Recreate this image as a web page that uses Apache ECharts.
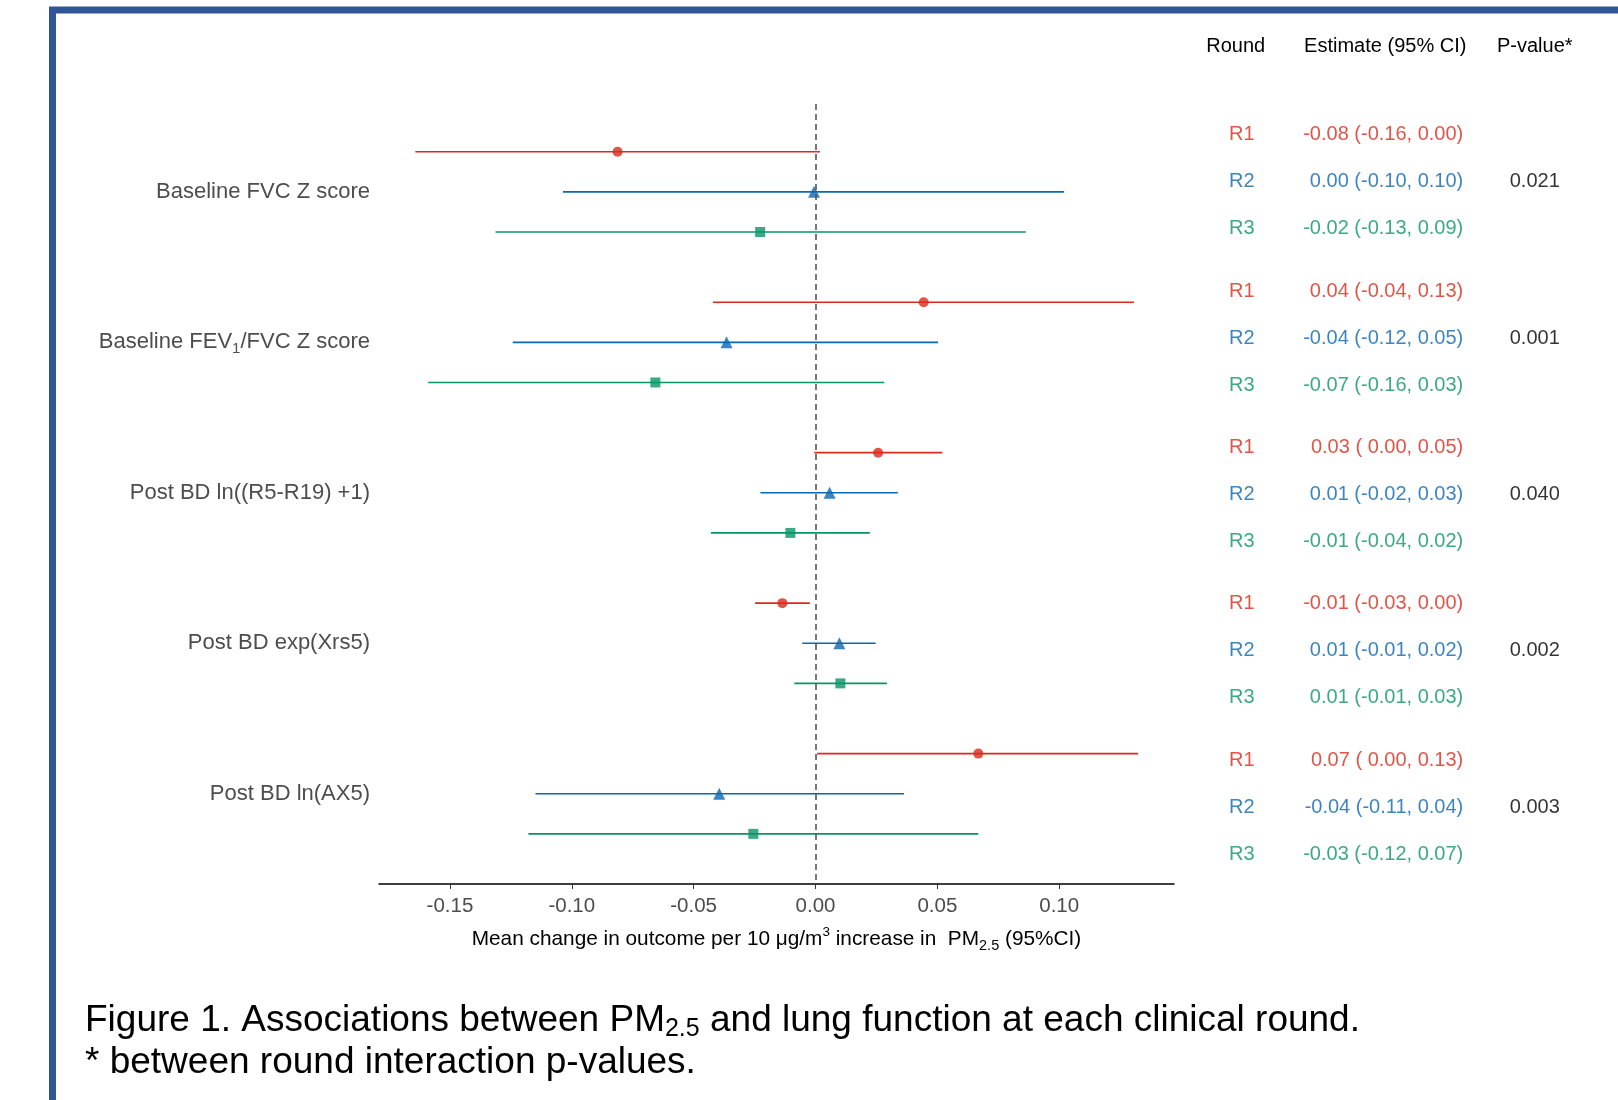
<!DOCTYPE html>
<html>
<head>
<meta charset="utf-8">
<script src="https://cdn.jsdelivr.net/npm/echarts@6/dist/echarts.min.js"></script>
<style>html,body{margin:0;padding:0;background:#fff}#c{width:1618px;height:1100px}</style>
</head>
<body>
<div id="c"></div>
<script>
// ---------- data ----------
const groupLabels = ['Baseline FVC Z score', 'Baseline FEV1/FVC Z score', 'Post BD ln((R5-R19) +1)', 'Post BD exp(Xrs5)', 'Post BD ln(AX5)'];
const rounds = ['R1', 'R2', 'R3'];
const r1Est = [-0.0812, 0.0444, 0.0257, -0.0136, 0.0668];
const r1Lo  = [-0.1642, -0.0421, -0.0005, -0.0248, 0.0007];
const r1Hi  = [0.0018, 0.1307, 0.0520, -0.0023, 0.1324];
const r2Est = [-0.0006, -0.0365, 0.0058, 0.0098, -0.0395];
const r2Lo  = [-0.1036, -0.1242, -0.0226, -0.0054, -0.1149];
const r2Hi  = [0.1020, 0.0503, 0.0338, 0.0247, 0.0363];
const r3Est = [-0.0227, -0.0657, -0.0103, 0.0102, -0.0255];
const r3Lo  = [-0.1313, -0.1589, -0.0429, -0.0087, -0.1178];
const r3Hi  = [0.0863, 0.0282, 0.0223, 0.0293, 0.0668];
const r1Text = ['-0.08 (-0.16, 0.00)', '0.04 (-0.04, 0.13)', '0.03 ( 0.00, 0.05)', '-0.01 (-0.03, 0.00)', '0.07 ( 0.00, 0.13)'];
const r2Text = ['0.00 (-0.10, 0.10)', '-0.04 (-0.12, 0.05)', '0.01 (-0.02, 0.03)', '0.01 (-0.01, 0.02)', '-0.04 (-0.11, 0.04)'];
const r3Text = ['-0.02 (-0.13, 0.09)', '-0.07 (-0.16, 0.03)', '-0.01 (-0.04, 0.02)', '0.01 (-0.01, 0.03)', '-0.03 (-0.12, 0.07)'];
const pValues = ['0.021', '0.001', '0.040', '0.002', '0.003'];
const xTicks = [-0.15, -0.10, -0.05, 0.00, 0.05, 0.10];
const tableHeaders = ['Round', 'Estimate (95% CI)', 'P-value*'];

// ---------- layout / style ----------
const FONT = 'Liberation Sans, Arial, Helvetica, sans-serif';
const COLORS = ['#D92B1C', '#0B67B0', '#0A9465'];
const SYMBOLS = ['circle', 'triangle', 'rect'];
const SYMSIZE = [10, 12, 10];
const PLOT_GROUP_STEP = 3.75;   // rows per group (incl. gap) in plot
const TABLE_GROUP_STEP = 3.335; // rows per group (incl. gap) in table
const plotPos = (g, r) => g * PLOT_GROUP_STEP + r;
const tablePos = (g, r) => g * TABLE_GROUP_STEP + r;

const est = [r1Est, r2Est, r3Est], lo = [r1Lo, r2Lo, r3Lo], hi = [r1Hi, r2Hi, r3Hi];
const txt = [r1Text, r2Text, r3Text];

function labelRich(name) {
  const i = name.indexOf('FEV1');
  if (i < 0) return '{a|' + name + '}';
  return '{a|' + name.slice(0, i + 3) + '}{sub|1}{a|' + name.slice(i + 4) + '}';
}

const series = [];
rounds.forEach((rd, r) => {
  series.push({
    type: 'custom', xAxisIndex: 0, yAxisIndex: 0, z: 2, silent: true,
    data: groupLabels.map((_, g) => [lo[r][g], hi[r][g], plotPos(g, r)]),
    renderItem: (params, api) => {
      const a = api.coord([api.value(0), api.value(2)]);
      const b = api.coord([api.value(1), api.value(2)]);
      return { type: 'line', shape: { x1: a[0], y1: a[1], x2: b[0], y2: b[1] },
               style: { stroke: COLORS[r], lineWidth: 1.6 } };
    }
  });
});
series.push({
  type: 'scatter', xAxisIndex: 0, yAxisIndex: 0, z: 3, data: [], silent: true,
  markLine: { silent: true, symbol: 'none', label: { show: false },
    lineStyle: { color: '#555', type: [6, 4], width: 1.6 },
    data: [{ xAxis: 0 }] }
});
rounds.forEach((rd, r) => {
  series.push({
    type: 'scatter', xAxisIndex: 0, yAxisIndex: 0, z: 4, silent: true,
    symbol: SYMBOLS[r], symbolSize: SYMSIZE[r],
    itemStyle: { color: COLORS[r] },
    data: groupLabels.map((_, g) => [est[r][g], plotPos(g, r)])
  });
});
// table
rounds.forEach((rd, r) => {
  series.push({
    type: 'scatter', xAxisIndex: 1, yAxisIndex: 1, symbolSize: 0, silent: true,
    data: groupLabels.map((_, g) => [0, tablePos(g, r), rd]),
    label: { show: true, position: 'inside', offset: [6, 0], formatter: p => p.data[2],
      color: COLORS[r], fontSize: 20, fontFamily: FONT }
  });
  series.push({
    type: 'scatter', xAxisIndex: 1, yAxisIndex: 1, symbolSize: 0, silent: true,
    data: groupLabels.map((_, g) => [1, tablePos(g, r), txt[r][g]]),
    label: { show: true, position: 'inside', align: 'right', offset: [78, 0], formatter: p => p.data[2],
      color: COLORS[r], fontSize: 20, fontFamily: FONT }
  });
});
series.push({
  type: 'scatter', xAxisIndex: 1, yAxisIndex: 1, symbolSize: 0, silent: true,
  data: groupLabels.map((_, g) => [2, tablePos(g, 1), pValues[g]]),
  label: { show: true, position: 'inside', formatter: p => p.data[2],
    color: '#000', fontSize: 20, fontFamily: FONT }
});

const option = {
  animation: false,
  backgroundColor: '#fff',
  textStyle: { fontFamily: FONT },
  title: {
    left: 80, top: 995,
    text: '{a|Figure 1. Associations between PM}{s|2.5}{a| and lung function at each clinical round.}\n{a|* between round interaction p-values.}',
    textStyle: { fontWeight: 'normal', rich: {
      a: { fontSize: 37, fontFamily: FONT, color: '#000', fontWeight: 'normal', lineHeight: 42 },
      s: { fontSize: 25, fontFamily: FONT, color: '#000', fontWeight: 'normal', lineHeight: 22, verticalAlign: 'bottom' }
    } }
  },
  graphic: [{
    type: 'rect', silent: true, z: 100,
    shape: { x: 52.5, y: 10, width: 1800, height: 1300 },
    style: { fill: 'none', stroke: '#2F5597', lineWidth: 7 }
  }],
  grid: [
    { left: 379, top: 104, width: 795, height: 780 },
    { left: 1161, top: 88, width: 448.5, height: 813 }
  ],
  xAxis: [{
    type: 'value', gridIndex: 0, min: -0.1791, max: 0.1471, position: 'bottom',
    splitLine: { show: false },
    axisLine: { show: true, onZero: false, lineStyle: { color: '#000', width: 1.5 } },
    axisTick: { show: true, customValues: xTicks, length: 5, lineStyle: { color: '#333', width: 1 } },
    axisLabel: { customValues: xTicks, formatter: v => v.toFixed(2), color: '#4D4D4D', fontSize: 20.5, margin: 12, fontFamily: FONT },
    name: '{t|Mean change in outcome per 10 }{t|μg/m}{sup|3}{t| increase in  PM}{sub|2.5}{t| (95%CI)}',
    nameLocation: 'middle', nameGap: 41.5,
    nameTextStyle: { rich: {
      t: { fontSize: 20.8, color: '#000', fontFamily: FONT, lineHeight: 28 },
      sup: { fontSize: 13.5, color: '#000', fontFamily: FONT, lineHeight: 14, verticalAlign: 'top' },
      sub: { fontSize: 14.5, color: '#000', fontFamily: FONT, lineHeight: 16, verticalAlign: 'bottom' }
    } }
  }, {
    type: 'category', gridIndex: 1, position: 'top', data: tableHeaders,
    axisLine: { show: false }, axisTick: { show: false }, splitLine: { show: false },
    axisLabel: { interval: 0, color: '#000', fontSize: 20, margin: 32, fontFamily: FONT }
  }],
  yAxis: [{
    type: 'value', gridIndex: 0, inverse: true, min: -1.19, max: 18.25,
    splitLine: { show: false }, axisLine: { show: false }, axisTick: { show: false },
    axisLabel: {
      customValues: groupLabels.map((_, g) => plotPos(g, 1)),
      formatter: v => labelRich(groupLabels[Math.round((v - 1) / PLOT_GROUP_STEP)]),
      margin: 9,
      rich: {
        a: { fontSize: 22, color: '#4D4D4D', fontFamily: FONT, lineHeight: 28 },
        sub: { fontSize: 15, color: '#4D4D4D', fontFamily: FONT, lineHeight: 16, verticalAlign: 'bottom' }
      }
    }
  }, {
    type: 'value', gridIndex: 1, inverse: true, min: -1, max: 16.34, show: false
  }],
  series: series
};
const chart = echarts.init(document.getElementById('c'), null, { renderer: 'canvas' });
chart.setOption(option);
</script>
</body>
</html>
